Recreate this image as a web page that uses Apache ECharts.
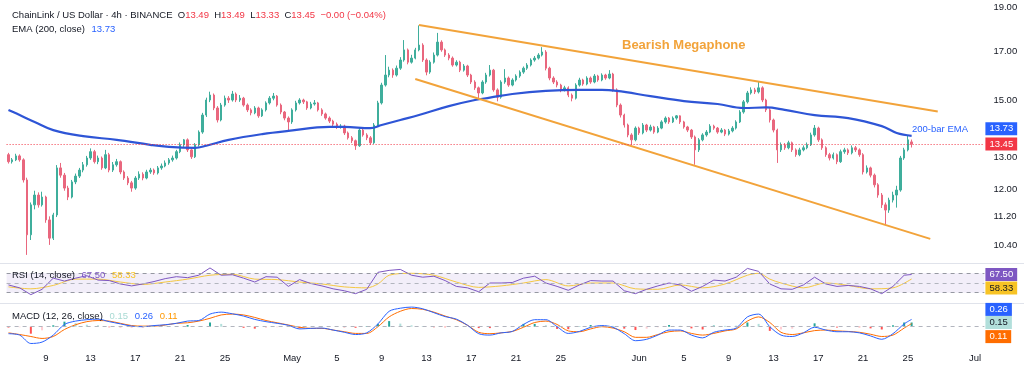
<!DOCTYPE html>
<html><head><meta charset="utf-8">
<script src="https://cdn.jsdelivr.net/npm/echarts@6/dist/echarts.min.js"></script>
<style>html,body{margin:0;padding:0;background:#fff}#c{width:1024px;height:371px}</style>
</head><body><div id="c"></div>
<script>
// ---- time base (8h bars) ----
const startTime = Date.UTC(2025, 3, 5, 16);
const barHours = 8;
const totalSlots = 262;
const tickDates = ['2025-04-09','2025-04-13','2025-04-17','2025-04-21','2025-04-25','2025-05-01','2025-05-05','2025-05-09','2025-05-13','2025-05-17','2025-05-21','2025-05-25','2025-06-01','2025-06-05','2025-06-09','2025-06-13','2025-06-17','2025-06-21','2025-06-25','2025-07-01'];
const tickTexts = ['9','13','17','21','25','May','5','9','13','17','21','25','Jun','5','9','13','17','21','25','Jul'];
const priceTicks = [10.40, 11.20, 12.00, 13.00, 15.00, 17.00, 19.00];

// ---- OHLC ----
const opens = [
13.09,12.86,12.92,13.05,12.92,12.28,10.69,11.53,11.82,11.53,
11.76,11.10,10.60,11.24,12.66,12.43,12.03,11.76,12.22,12.40,
12.59,12.76,12.98,13.19,12.86,12.98,12.66,13.09,12.59,12.76,
12.86,12.53,12.34,12.19,12.03,12.34,12.46,12.34,12.53,12.59,
12.50,12.66,12.72,12.82,12.92,12.98,13.19,13.42,13.59,13.25,
13.02,13.42,13.86,14.47,15.03,15.22,14.73,14.29,14.84,15.10,
15.03,15.26,15.03,15.10,14.84,14.66,14.55,14.73,14.44,14.66,
14.92,15.10,15.18,14.84,14.58,14.36,14.22,14.66,14.92,15.03,
14.96,14.73,14.88,14.92,14.66,14.51,14.36,14.25,14.14,14.04,
14.07,13.83,13.66,13.56,13.39,13.93,13.76,13.66,13.49,14.11,
14.92,15.61,16.01,16.21,16.01,16.29,16.63,17.06,16.54,16.71,
17.06,17.27,16.63,16.13,16.54,16.84,17.40,17.06,16.84,16.71,
16.42,16.54,16.21,16.38,16.01,15.73,15.50,15.30,15.73,16.01,
16.21,15.42,15.14,15.73,15.89,15.61,15.81,15.97,16.13,16.29,
16.42,16.63,16.71,16.84,16.97,16.29,15.89,15.73,15.61,15.42,
15.50,15.22,15.10,15.61,15.81,15.65,15.89,15.73,15.97,15.81,
16.01,15.89,16.05,15.42,14.84,14.47,14.11,13.76,13.59,14.00,
13.83,14.11,13.93,14.04,13.86,14.00,14.22,14.36,14.22,14.36,
14.44,14.22,14.04,13.93,13.69,13.25,13.59,13.76,13.86,14.07,
14.00,13.86,13.93,13.79,13.90,14.00,14.22,14.58,14.96,15.30,
15.42,15.34,15.50,15.03,14.66,14.29,13.93,13.25,13.42,13.32,
13.49,13.25,13.09,13.25,13.32,13.42,13.76,14.00,13.59,13.32,
13.09,12.98,13.09,12.86,13.19,13.25,13.15,13.32,13.25,13.09,
12.53,12.66,12.43,12.13,11.82,11.53,11.38,11.67,11.82,11.97,
12.98,13.25,13.52];
const closes = [
12.86,12.92,13.05,12.92,12.28,10.69,11.53,11.82,11.53,11.76,
11.10,10.60,11.24,12.66,12.43,12.03,11.76,12.22,12.40,12.59,
12.76,12.98,13.19,12.86,12.98,12.66,13.09,12.59,12.76,12.86,
12.53,12.34,12.19,12.03,12.34,12.46,12.34,12.53,12.59,12.50,
12.66,12.72,12.82,12.92,12.98,13.19,13.42,13.59,13.25,13.02,
13.42,13.86,14.47,15.03,15.22,14.73,14.29,14.84,15.10,15.03,
15.26,15.03,15.10,14.84,14.66,14.55,14.73,14.44,14.66,14.92,
15.10,15.18,14.84,14.58,14.36,14.22,14.66,14.92,15.03,14.96,
14.73,14.88,14.92,14.66,14.51,14.36,14.25,14.14,14.04,14.07,
13.83,13.66,13.56,13.39,13.93,13.76,13.66,13.49,14.11,14.92,
15.61,16.01,16.21,16.01,16.29,16.63,17.06,16.54,16.71,17.06,
17.27,16.63,16.13,16.54,16.84,17.40,17.06,16.84,16.71,16.42,
16.54,16.21,16.38,16.01,15.73,15.50,15.30,15.73,16.01,16.21,
15.42,15.14,15.73,15.89,15.61,15.81,15.97,16.13,16.29,16.42,
16.63,16.71,16.84,16.97,16.29,15.89,15.73,15.61,15.42,15.50,
15.22,15.10,15.61,15.81,15.65,15.89,15.73,15.97,15.81,16.01,
15.89,16.05,15.42,14.84,14.47,14.11,13.76,13.59,14.00,13.83,
14.11,13.93,14.04,13.86,14.00,14.22,14.36,14.22,14.36,14.44,
14.22,14.04,13.93,13.69,13.25,13.59,13.76,13.86,14.07,14.00,
13.86,13.93,13.79,13.90,14.00,14.22,14.58,14.96,15.30,15.42,
15.34,15.50,15.03,14.66,14.29,13.93,13.25,13.42,13.32,13.49,
13.25,13.09,13.25,13.32,13.42,13.76,14.00,13.59,13.32,13.09,
12.98,13.09,12.86,13.19,13.25,13.15,13.32,13.25,13.09,12.53,
12.66,12.43,12.13,11.82,11.53,11.38,11.67,11.82,11.97,12.98,
13.25,13.59,13.45];
const highs = [
13.15,12.98,13.12,13.10,12.97,12.35,11.60,11.95,11.90,11.92,
11.80,11.20,11.30,12.75,12.82,12.50,12.10,12.28,12.48,12.66,
12.85,13.05,13.30,13.25,13.06,13.03,13.25,13.15,12.85,12.95,
12.90,12.58,12.40,12.25,12.40,12.55,12.52,12.60,12.66,12.64,
12.72,12.80,12.90,12.98,13.06,13.25,13.50,13.62,13.64,13.30,
13.48,13.92,14.55,15.12,15.35,15.28,14.80,14.92,15.20,15.18,
15.38,15.32,15.22,15.15,14.90,14.72,14.80,14.78,14.72,14.98,
15.18,15.30,15.22,14.90,14.62,14.42,14.72,15.00,15.10,15.08,
15.00,14.96,15.03,14.96,14.72,14.56,14.42,14.30,14.20,14.14,
14.12,13.88,13.72,13.60,14.00,13.98,13.82,13.72,14.18,15.00,
15.70,16.84,16.35,16.28,16.40,16.75,17.49,17.12,16.85,17.15,
18.15,17.35,16.70,16.62,16.95,17.81,17.48,17.12,16.92,16.78,
16.62,16.60,16.46,16.43,16.06,15.80,15.55,15.80,16.10,16.42,
16.26,15.48,15.80,16.25,15.95,15.88,16.04,16.20,16.36,16.50,
16.70,16.80,16.92,17.18,17.05,16.35,15.96,15.80,15.66,15.58,
15.56,15.28,15.68,15.90,15.86,15.96,15.95,16.05,16.02,16.08,
16.06,16.21,16.10,15.48,14.90,14.52,14.16,13.82,14.06,14.05,
14.18,14.15,14.12,14.08,14.07,14.28,14.42,14.40,14.42,14.47,
14.46,14.26,14.08,13.97,13.74,13.65,13.82,13.93,14.14,14.12,
14.04,14.00,13.97,13.97,14.07,14.28,14.65,15.03,15.38,15.52,
15.50,15.73,15.56,15.08,14.72,14.34,13.98,13.50,13.48,13.56,
13.53,13.30,13.32,13.40,13.50,13.84,14.11,14.05,13.64,13.37,
13.15,13.16,13.13,13.26,13.32,13.30,13.40,13.38,13.30,13.14,
12.74,12.70,12.48,12.18,11.88,11.60,11.74,11.92,12.10,13.05,
13.32,13.76,13.60];
const lows = [
12.80,12.80,12.88,12.86,12.20,10.16,10.55,11.40,11.45,11.48,
11.02,10.42,10.55,11.18,12.35,11.95,11.67,11.72,12.15,12.34,
12.52,12.70,12.92,12.80,12.78,12.60,12.62,12.52,12.53,12.70,
12.46,12.28,12.12,11.92,11.98,12.28,12.27,12.30,12.47,12.44,
12.45,12.60,12.68,12.76,12.86,12.93,13.14,13.35,13.18,12.95,
12.98,13.36,13.80,14.40,14.95,14.65,14.20,14.24,14.78,14.92,
14.97,14.95,14.96,14.78,14.58,14.46,14.50,14.37,14.40,14.60,
14.86,15.02,14.78,14.50,14.28,13.93,14.15,14.60,14.86,14.88,
14.66,14.68,14.82,14.60,14.44,14.30,14.18,14.06,13.97,13.98,
13.76,13.60,13.48,13.25,13.35,13.70,13.58,13.42,13.45,14.05,
14.86,15.55,15.92,15.90,15.95,16.22,16.56,16.45,16.48,16.66,
17.00,16.55,16.00,16.06,16.48,16.78,16.98,16.76,16.62,16.35,
16.36,16.13,16.15,15.93,15.65,15.42,15.03,15.25,15.66,15.95,
15.35,14.98,15.08,15.66,15.54,15.56,15.75,15.90,16.06,16.22,
16.36,16.56,16.65,16.78,16.20,15.80,15.65,15.52,15.33,15.36,
15.14,14.98,15.05,15.55,15.58,15.60,15.66,15.68,15.74,15.76,
15.82,15.84,15.35,14.76,14.38,14.02,13.68,13.42,13.54,13.76,
13.78,13.86,13.88,13.80,13.82,13.96,14.16,14.15,14.18,14.30,
14.15,13.98,13.86,13.62,12.76,13.18,13.54,13.70,13.82,13.94,
13.80,13.82,13.72,13.74,13.85,13.95,14.18,14.52,14.90,15.24,
15.26,15.28,14.95,14.58,14.20,13.85,12.82,13.18,13.25,13.27,
13.18,13.02,13.04,13.20,13.27,13.38,13.70,13.52,13.25,13.02,
12.90,12.93,12.78,12.82,13.12,13.08,13.10,13.18,13.02,12.45,
12.48,12.36,12.05,11.74,11.44,10.96,11.30,11.60,11.45,11.92,
12.92,13.20,13.33];

// ---- EMA 200 (read at bar indices) ----
const emaIdx = [0,3,7,12,20,29,38,43,50,53,59,68,75,86,90,97,100,105,110,118,125,129,135,144,153,159,163,172,181,190,197,203,208,216,225,234,238,242];
const emaVal = [14.66,14.47,14.22,13.93,13.72,13.59,13.42,13.35,13.32,13.39,13.59,13.79,13.90,14.04,14.04,14.00,14.11,14.29,14.47,14.80,15.03,15.12,15.26,15.38,15.42,15.42,15.38,15.18,14.99,14.88,14.73,14.75,14.66,14.47,14.36,14.07,13.83,13.73];

// ---- megaphone trend lines [barIndex, price] ----
const upperLine = [[110, 18.17], [249, 14.60]];
const lowerLine = [[109, 15.85], [247, 10.58]];

// ---- indicators sampled every 3 bars (+ last bar) ----
const sampleIdx = [];
for (let i = 0; i <= 240; i += 3) sampleIdx.push(i);
sampleIdx.push(242);
const rsiVal = [
46,40,26,37,60,54,60,65,56,55,
48,44,48,53,59,63,61,66,81,66,
67,60,52,63,62,43,57,49,44,38,
34,28,37,72,76,78,66,62,64,55,
43,40,32,50,50,51,60,64,50,43,
35,46,55,54,54,34,28,37,44,50,
46,33,43,56,54,62,80,74,48,38,
37,46,62,48,43,45,43,38,28,43,
66,67.5];
const rsiMaIdx = [0,6,12,18,24,30,36,42,48,54,60,66,72,78,84,90,96,99,102,108,114,120,126,132,138,144,150,156,162,168,174,180,186,192,198,201,204,207,213,219,225,231,237,242];
const rsiMaVal = [42,38,45,58,58,52,47,52,58,66,68,58,57,52,48,42,40,48,66,70,66,52,41,44,50,57,44,50,50,38,37,46,40,48,66,70,58,50,40,50,45,38,40,58.33];
const macdVal = [
-0.25,-0.30,-0.60,-0.55,-0.30,0.08,0.20,0.25,0.27,0.18,
0.10,0.02,0.00,0.04,0.07,0.12,0.20,0.22,0.45,0.52,
0.46,0.38,0.26,0.18,0.12,0.05,-0.08,-0.06,-0.05,-0.12,
-0.20,-0.28,-0.22,0.10,0.55,0.66,0.70,0.64,0.50,0.36,
0.27,0.05,-0.25,-0.30,-0.22,-0.17,0.08,0.25,0.25,0.00,
-0.24,-0.17,-0.02,0.04,-0.02,-0.25,-0.50,-0.45,-0.30,-0.12,
-0.12,-0.30,-0.40,-0.20,-0.12,-0.05,0.35,0.45,0.00,-0.30,
-0.35,-0.22,-0.02,-0.12,-0.18,-0.18,-0.22,-0.33,-0.45,-0.25,
0.10,0.26];
const signalVal = [
-0.22,-0.28,-0.35,-0.42,-0.35,-0.10,0.07,0.18,0.22,0.20,
0.12,0.04,0.02,0.02,0.06,0.12,0.14,0.20,0.30,0.42,
0.45,0.42,0.33,0.22,0.14,0.06,-0.02,-0.06,-0.06,-0.12,
-0.18,-0.24,-0.24,0.00,0.35,0.55,0.65,0.62,0.52,0.38,
0.25,0.05,-0.20,-0.25,-0.22,-0.17,-0.02,0.15,0.20,0.08,
-0.15,-0.18,-0.08,0.00,-0.05,-0.18,-0.38,-0.38,-0.28,-0.18,
-0.15,-0.24,-0.30,-0.24,-0.15,-0.08,0.20,0.35,0.15,-0.20,
-0.28,-0.22,-0.14,-0.12,-0.15,-0.17,-0.20,-0.27,-0.35,-0.30,
-0.05,0.11];
const histVal = [
-0.03,-0.02,-0.25,-0.13,0.05,0.18,0.13,0.07,0.05,-0.02,
-0.02,-0.02,-0.02,0.02,0.01,0.00,0.06,0.02,0.15,0.10,
0.01,-0.04,-0.07,-0.04,-0.02,-0.01,-0.06,0.00,0.01,0.00,
-0.02,-0.04,0.02,0.10,0.20,0.11,0.05,0.02,-0.02,-0.02,
0.02,0.00,-0.05,-0.05,0.00,0.00,0.10,0.10,0.05,-0.08,
-0.09,0.01,0.06,0.04,0.03,-0.07,-0.12,-0.07,-0.02,0.06,
0.03,-0.06,-0.10,0.04,0.03,0.03,0.15,0.10,-0.15,-0.10,
-0.07,0.00,0.12,0.00,-0.03,-0.01,-0.02,-0.06,-0.10,0.05,
0.15,0.15];

// ---- last values / header ----
const lastClose = 13.45, lastEma = 13.73;
const lastRsi = 67.50, lastRsiMa = 58.33;
const lastHist = 0.15, lastMacd = 0.26, lastSignal = 0.11;
const hdr = {o: '13.49', h: '13.49', l: '13.33', c: '13.45', chg: '\u22120.00 (\u22120.04%)'};

// ---------- build ----------
const cats = [];
for (let k = 0; k < totalSlots; k++) cats.push(new Date(startTime + k * barHours * 3600e3).toISOString().slice(0, 13));
const tickMap = {};
tickDates.forEach((d, j) => { tickMap[d + 'T00'] = tickTexts[j]; });
const candleData = opens.map((o, i) => [o, closes[i], lows[i], highs[i]]);
const pairs = (idx, vals) => idx.map((x, j) => [x, vals[j]]);
const histData = sampleIdx.map((x, j) => {
  const v = histVal[j], p = j > 0 ? histVal[j - 1] : v;
  const c = v >= 0 ? (v >= p ? '#26A69A' : '#B2DFDB') : (v <= p ? '#FF5252' : '#FFCDD2');
  return {value: [x, v], itemStyle: {color: c}};
});

const FONT = 'Liberation Sans, Arial, sans-serif';
const TXT = '#131722';
const gridL = 6.6, gridW = 977.8;
const boxLabel = (bg, fg, text, dy) => ({
  show: true, position: 'end', distance: 1, formatter: text,
  backgroundColor: bg, color: fg, fontSize: 9.5, fontFamily: FONT,
  padding: [2, 4, 1, 4], offset: [0, dy || 0]
});
const hiddenLine = {color: 'rgba(0,0,0,0)', width: 0};

const catAxis = (gi, showLabels) => ({
  type: 'category', gridIndex: gi, data: cats, boundaryGap: true,
  axisLine: {show: false}, axisTick: {show: false}, splitLine: {show: false},
  axisLabel: showLabels ? {
    show: true, interval: (i, v) => tickMap[v] !== undefined,
    formatter: v => tickMap[v] || '', color: TXT, fontSize: 9.5, fontFamily: FONT, margin: 5
  } : {show: false}
});

const option = {
  animation: false,
  backgroundColor: '#ffffff',
  textStyle: {fontFamily: FONT},
  grid: [
    {left: gridL, width: gridW, top: 0, height: 263},
    {left: gridL, width: gridW, top: 263, height: 40},
    {left: gridL, width: gridW, top: 303, height: 45}
  ],
  xAxis: [catAxis(0, false), catAxis(1, false), catAxis(2, true)],
  yAxis: [
    {type: 'log', logBase: 10, gridIndex: 0, position: 'right', min: 9.954, max: 19.355,
     axisLine: {show: false}, axisTick: {show: false}, splitLine: {show: false},
     axisLabel: {customValues: priceTicks, formatter: v => Number(v).toFixed(2), color: TXT, fontSize: 9.5, fontFamily: FONT, margin: 9}},
    {type: 'value', gridIndex: 1, position: 'right', min: 8.8, max: 91.2,
     axisLine: {show: false}, axisTick: {show: false}, splitLine: {show: false}, axisLabel: {show: false}},
    {type: 'value', gridIndex: 2, position: 'right', min: -0.761, max: 0.846,
     axisLine: {show: false}, axisTick: {show: false}, splitLine: {show: false}, axisLabel: {show: false}}
  ],
  series: [
    {type: 'candlestick', xAxisIndex: 0, yAxisIndex: 0, data: candleData, barWidth: '52%',
     itemStyle: {color: '#3FAE9C', color0: '#E9677E', borderColor: '#3FAE9C', borderColor0: '#E9677E', borderWidth: 1},
     markLine: {silent: true, symbol: 'none', animation: false, data: [
       {yAxis: lastClose, lineStyle: {type: [1, 2], color: '#F23645', width: 1}, label: boxLabel('#F23645', '#fff', lastClose.toFixed(2), 0)},
       {yAxis: lastEma, lineStyle: hiddenLine, label: boxLabel('#2962FF', '#fff', lastEma.toFixed(2), -7)}
     ]}},
    {type: 'line', xAxisIndex: 0, yAxisIndex: 0, data: pairs(emaIdx, emaVal), smooth: 0.4, showSymbol: false,
     lineStyle: {color: '#2E55D6', width: 2.2}, z: 3},
    {type: 'line', xAxisIndex: 0, yAxisIndex: 0, data: upperLine, showSymbol: false, lineStyle: {color: '#F2A33A', width: 2}, z: 4},
    {type: 'line', xAxisIndex: 0, yAxisIndex: 0, data: lowerLine, showSymbol: false, lineStyle: {color: '#F2A33A', width: 2}, z: 4},
    {type: 'line', xAxisIndex: 1, yAxisIndex: 1, data: pairs(sampleIdx, rsiVal), showSymbol: false,
     lineStyle: {color: '#7E57C2', width: 1}, z: 4,
     markArea: {silent: true, itemStyle: {color: 'rgba(126,87,194,0.10)'}, data: [[{yAxis: 30}, {yAxis: 70}]]},
     markLine: {silent: true, symbol: 'none', data: [
       {yAxis: 70, lineStyle: {type: [4, 4], color: '#9598A1', width: 1}, label: {show: false}},
       {yAxis: 50, lineStyle: {type: [4, 4], color: '#B2B5BE', width: 1}, label: {show: false}},
       {yAxis: 30, lineStyle: {type: [4, 4], color: '#9598A1', width: 1}, label: {show: false}},
       {yAxis: lastRsi, lineStyle: hiddenLine, label: boxLabel('#7E57C2', '#fff', lastRsi.toFixed(2), 0)},
       {yAxis: lastRsiMa, lineStyle: hiddenLine, label: boxLabel('#F7C325', '#131722', lastRsiMa.toFixed(2), 9)}
     ]}},
    {type: 'line', xAxisIndex: 1, yAxisIndex: 1, data: pairs(rsiMaIdx, rsiMaVal), smooth: 0.3, showSymbol: false,
     lineStyle: {color: '#F5C842', width: 1}, z: 3},
    {type: 'bar', xAxisIndex: 2, yAxisIndex: 2, data: histData, barWidth: 2, z: 2},
    {type: 'line', xAxisIndex: 2, yAxisIndex: 2, data: pairs(sampleIdx, macdVal), smooth: 0.3, showSymbol: false,
     lineStyle: {color: '#2962FF', width: 1}, z: 4,
     markLine: {silent: true, symbol: 'none', data: [
       {yAxis: 0, lineStyle: {type: [4, 4], color: '#B2B5BE', width: 1}, label: {show: false}},
       {yAxis: lastMacd, lineStyle: hiddenLine, label: boxLabel('#2962FF', '#fff', lastMacd.toFixed(2), -10)},
       {yAxis: lastHist, lineStyle: hiddenLine, label: boxLabel('#B2DFDB', '#131722', lastHist.toFixed(2), 0)},
       {yAxis: lastSignal, lineStyle: hiddenLine, label: boxLabel('#FF6D00', '#fff', lastSignal.toFixed(2), 13)}
     ]}},
    {type: 'line', xAxisIndex: 2, yAxisIndex: 2, data: pairs(sampleIdx, signalVal), smooth: 0.3, showSymbol: false,
     lineStyle: {color: '#FF6D00', width: 1}, z: 3}
  ],
  graphic: [
    {type: 'line', shape: {x1: 0, y1: 263.5, x2: 1024, y2: 263.5}, style: {stroke: '#E0E3EB', lineWidth: 1}, silent: true},
    {type: 'line', shape: {x1: 0, y1: 303.5, x2: 1024, y2: 303.5}, style: {stroke: '#E0E3EB', lineWidth: 1}, silent: true},
    {type: 'text', x: 12, y: 15, silent: true, style: {
      text: '{d|ChainLink / US Dollar \u00b7 4h \u00b7 BINANCE}  {d|O}{r|' + hdr.o + '}  {d|H}{r|' + hdr.h + '}  {d|L}{r|' + hdr.l + '}  {d|C}{r|' + hdr.c + '}  {r|' + hdr.chg + '}',
      verticalAlign: 'middle', font: '9.5px ' + FONT,
      rich: {d: {fill: TXT, fontSize: 9.5, fontFamily: FONT}, r: {fill: '#F23645', fontSize: 9.5, fontFamily: FONT}}}},
    {type: 'text', x: 12, y: 29, silent: true, style: {
      text: '{d|EMA (200, close)}  {b|' + lastEma.toFixed(2) + '}', verticalAlign: 'middle',
      rich: {d: {fill: TXT, fontSize: 9.5, fontFamily: FONT}, b: {fill: '#2962FF', fontSize: 9.5, fontFamily: FONT}}}},
    {type: 'text', x: 622, y: 45.5, silent: true, style: {
      text: 'Bearish Megaphone', fill: '#F2A33A', fontSize: 13, fontWeight: 'bold', fontFamily: FONT, verticalAlign: 'middle'}},
    {type: 'text', x: 912, y: 129.5, silent: true, style: {
      text: '200-bar EMA', fill: '#2962FF', fontSize: 9.5, fontFamily: FONT, verticalAlign: 'middle'}},
    {type: 'text', x: 12, y: 275.5, silent: true, z: 100, style: {
      text: '{d|RSI (14, close)}  {p|' + lastRsi.toFixed(2) + '}  {y|' + lastRsiMa.toFixed(2) + '}', verticalAlign: 'middle',
      rich: {d: {fill: TXT, fontSize: 9.5, fontFamily: FONT}, p: {fill: '#7E57C2', fontSize: 9.5, fontFamily: FONT}, y: {fill: '#F7C325', fontSize: 9.5, fontFamily: FONT}}}},
    {type: 'text', x: 12, y: 316, silent: true, z: 100, style: {
      text: '{d|MACD (12, 26, close)}  {h|' + lastHist.toFixed(2) + '}  {b|' + lastMacd.toFixed(2) + '}  {o|' + lastSignal.toFixed(2) + '}', verticalAlign: 'middle',
      rich: {d: {fill: TXT, fontSize: 9.5, fontFamily: FONT}, h: {fill: '#A8DAD3', fontSize: 9.5, fontFamily: FONT}, b: {fill: '#2962FF', fontSize: 9.5, fontFamily: FONT}, o: {fill: '#FF9800', fontSize: 9.5, fontFamily: FONT}}}}
  ]
};
const chart = echarts.init(document.getElementById('c'), null, {renderer: 'canvas'});
chart.setOption(option);
</script>
</body></html>
